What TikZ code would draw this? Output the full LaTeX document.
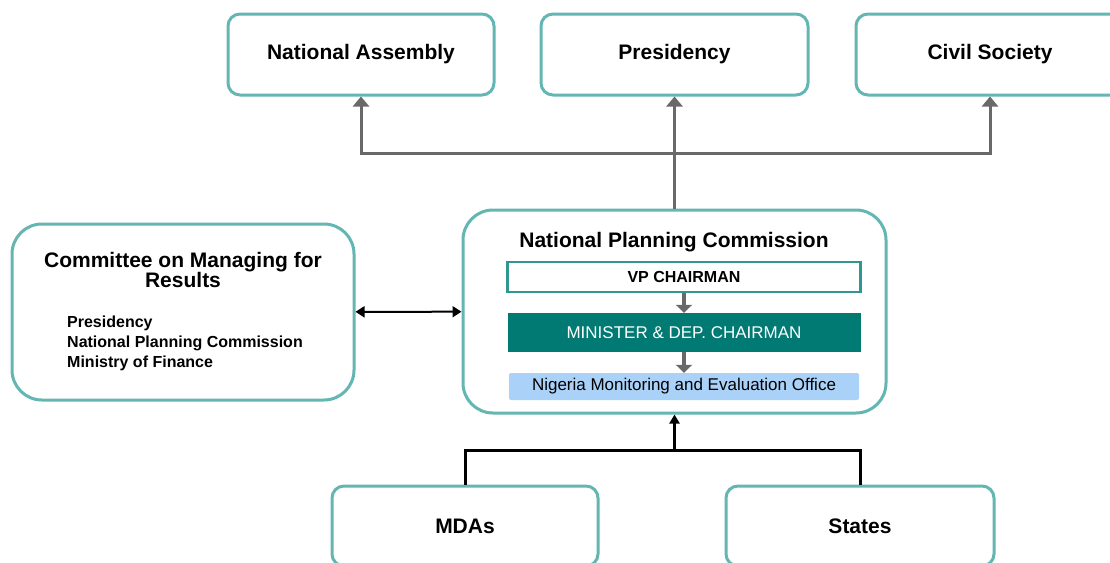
\documentclass[tikz,border=0pt]{standalone}
\usepackage{fontspec}
\setmainfont{Liberation Sans}
\usetikzlibrary{arrows.meta}
\definecolor{boxteal}{RGB}{100,182,178}
\definecolor{edgeteal}{RGB}{48,150,145}
\definecolor{darkteal}{RGB}{0,122,115}
\definecolor{officeblue}{RGB}{170,210,248}
\definecolor{linkgray}{RGB}{105,105,105}
\newcommand{\sizept}[2]{\fontsize{#1}{#2}\selectfont}
\newcommand{\orgbox}[6]{\node[bodybox, minimum width=#4pt, minimum height=#5pt] (#1) at ( #2 , #3 ) {#6};}
\tikzset{
  bodybox/.style={draw=boxteal, line width=3pt, rounded corners=12pt, fill=white, inner sep=0pt, font=\sizept{21}{22}\bfseries},
  bigbox/.style={draw=boxteal, line width=3pt, rounded corners=30pt, fill=white, inner sep=0pt},
  headtext/.style={inner sep=0pt, font=\sizept{21}{20}\bfseries},
  listtext/.style={inner sep=0pt, font=\sizept{16}{20}\bfseries},
  vpbox/.style={draw=edgeteal, line width=2.5pt, fill=white, inner sep=0pt, minimum width=353pt, minimum height=30pt, font=\sizept{16}{18}\bfseries},
  ministerbox/.style={fill=darkteal, text=white, inner sep=0pt, minimum width=353pt, minimum height=39pt, font=\sizept{17}{19}},
  officebox/.style={fill=officeblue, rounded corners=2pt, inner sep=0pt, minimum width=350pt, minimum height=27pt, font=\sizept{17}{19}},
  grayline/.style={draw=linkgray, line width=3pt, -{Triangle[length=10pt,width=16pt]}},
  stepline/.style={draw=linkgray, line width=4pt, -{Triangle[length=8pt,width=16pt]}},
  blackline/.style={draw=black, line width=3pt},
  dblarrow/.style={draw=black, line width=2pt, {Triangle[length=9pt,width=11pt]}-{Triangle[length=9pt,width=11pt]}}
}
\begin{document}
\begin{tikzpicture}[x=1pt,y=-1pt]
        \clip (0,0) rectangle (1110,562);
        % top row
        \orgbox{assembly}{361}{54.5}{266}{81}{National Assembly}
        \orgbox{presidency}{674.5}{54.5}{267}{81}{Presidency}
        \orgbox{civil}{990}{54.5}{268}{81}{Civil Society}

        % commission
        \node[bigbox, minimum width=423pt, minimum height=203pt] (npc) at (674.5,311.5) {};
        \node[headtext] (npctitle) at (674,242) {National Planning Commission};
        \node[vpbox] (vp) at (684,277) {VP CHAIRMAN};
        \node[ministerbox] (minister) at (684,332.5) {MINISTER \& DEP. CHAIRMAN};
        \node[officebox] (office) at (684,386.5) {Nigeria Monitoring and Evaluation Office};
        \draw[stepline] (vp) -- (minister);
        \draw[stepline] (minister) -- (office);

        % committee
        \node[bigbox, minimum width=342pt, minimum height=176pt] (committee) at (183,312) {};
        \node[headtext, align=center] (cmtitle) at (183,270) {Committee on Managing for\\Results};
        \node[listtext, anchor=west, align=left] (members) at (67,343) {Presidency\\National Planning Commission\\Ministry of Finance};

        % bottom row
        \orgbox{mdas}{465}{526}{266}{80}{MDAs}
        \orgbox{states}{860}{526}{268}{80}{States}

        % links up
        \coordinate (hub) at (674.5,153);
        \draw[grayline] (npc) -- (presidency);
        \draw[grayline] (hub) -| (assembly);
        \draw[grayline] (hub) -| (civil);
        \draw[dblarrow] (committee) -- (npc);

        % links from below
        \coordinate (merge) at (674.5,450);
        \draw[blackline] (mdas) |- (merge) -| (states);
        \draw[blackline, -{Triangle[length=9pt,width=10pt]}] (merge) -- (npc);
\end{tikzpicture}
\end{document}
